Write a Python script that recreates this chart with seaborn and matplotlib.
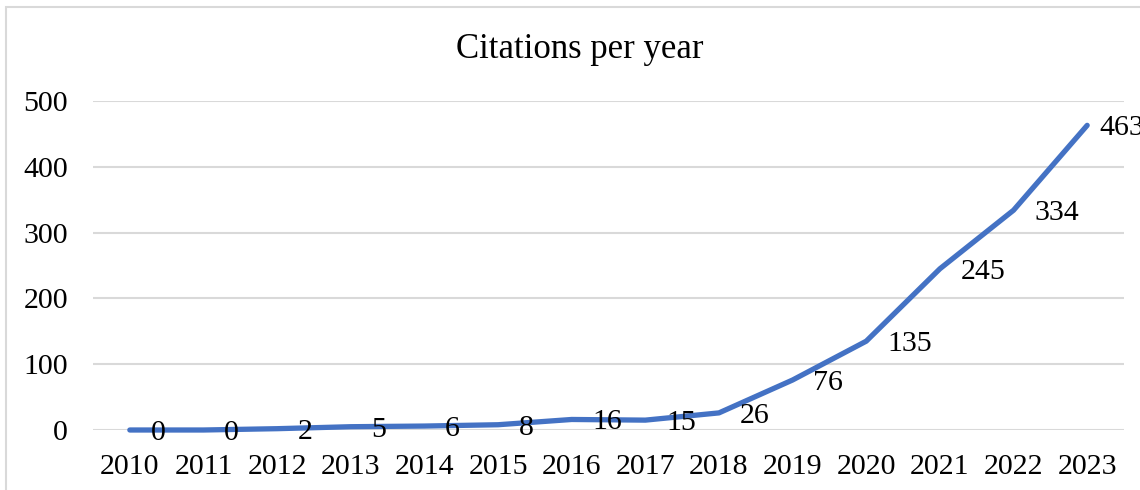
import matplotlib
matplotlib.use("Agg")
import matplotlib.pyplot as plt
import seaborn as sns
import pandas as pd
from matplotlib.patches import Rectangle

# citations per year
years = [2010, 2011, 2012, 2013, 2014, 2015, 2016, 2017, 2018, 2019, 2020, 2021, 2022, 2023]
citations = [0, 0, 2, 5, 6, 8, 16, 15, 26, 76, 135, 245, 334, 463]
y_ticks = [0, 100, 200, 300, 400, 500]

df = pd.DataFrame({"year": years, "citations": citations})

sns.set_theme(style="white")
plt.rcParams["font.family"] = ["Liberation Serif", "DejaVu Serif"]
plt.rcParams["text.color"] = "black"

W, H = 1140, 490
fig = plt.figure(figsize=(W / 100, H / 100), dpi=100)
ax = fig.add_axes([93 / W, (H - 430) / H, (1124 - 93) / W, (430 - 101) / H])

sns.lineplot(data=df, x="year", y="citations", ax=ax, color="#4472C4",
             linewidth=3.8, solid_capstyle="round", solid_joinstyle="round",
             clip_on=False, zorder=3)

# data labels to the right of each point; the last one is pushed in a bit (as Excel does)
for i, (yr, v) in enumerate(zip(years, citations)):
    dx = 9 if i == len(years) - 1 else 15
    ax.annotate(str(v), (yr, v), xytext=(dx, 0), textcoords="offset points",
                ha="left", va="center_baseline", fontsize=21.5, color="black",
                annotation_clip=False, zorder=4)

ax.set_xlim(years[0] - 0.5, years[-1] + 0.5)
ax.set_ylim(y_ticks[0], y_ticks[-1])
ax.set_xticks(years)
ax.set_xticklabels([str(y) for y in years])
ax.set_yticks(y_ticks)
ax.tick_params(axis="both", length=0, labelsize=21.5, colors="black")
ax.tick_params(axis="x", pad=17)
ax.tick_params(axis="y", pad=18)
ax.set_xlabel("")
ax.set_ylabel("")
for s in ax.spines.values():
    s.set_visible(False)
ax.grid(axis="y", color="#D9D9D9", linewidth=1.5)
ax.set_axisbelow(True)

fig.text(580 / W, 1 - 50 / H, "Citations per year", ha="center", va="center",
         fontsize=25, color="black")

# chart frame, cut off on the right and bottom like the reference
fig.add_artist(Rectangle((6 / W, -0.1), 1.2, 1 - 7 / H + 0.1, transform=fig.transFigure,
                         fill=False, edgecolor="#D9D9D9", linewidth=1.5))

fig.savefig("out.png", dpi=100)
